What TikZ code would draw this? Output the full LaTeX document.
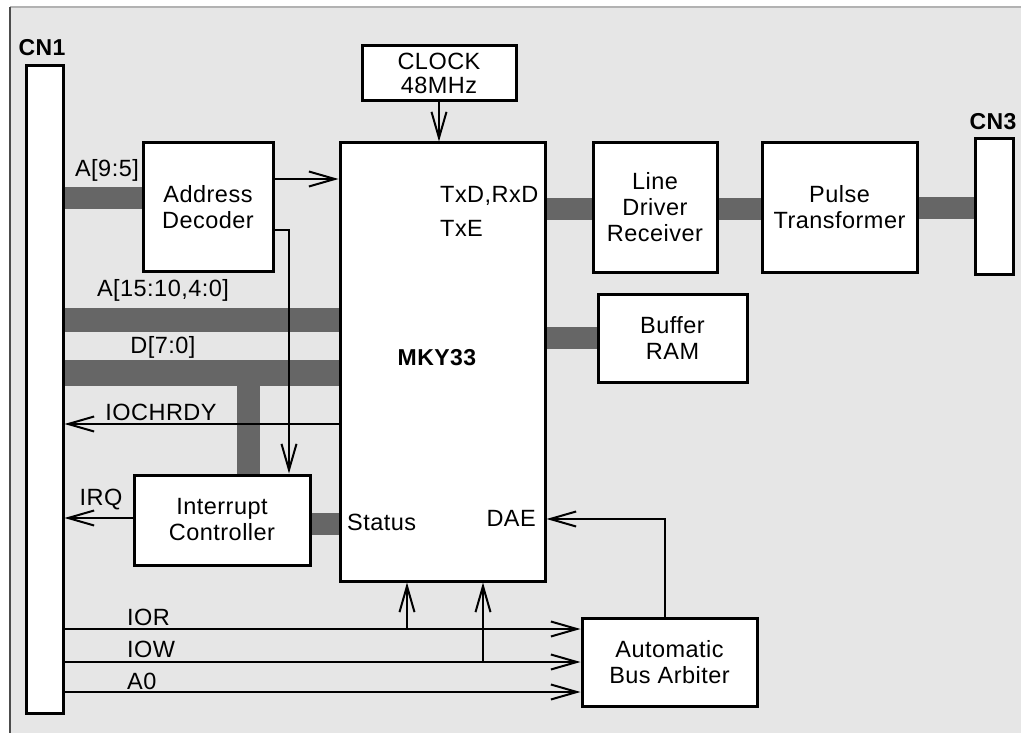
\documentclass[tikz,border=0pt]{standalone}
\usepackage{fontspec}
\setmainfont{Liberation Sans}
\usetikzlibrary{arrows.meta}
\definecolor{bg}{HTML}{E6E6E6}
\definecolor{busc}{HTML}{666666}
\begin{document}
\begin{tikzpicture}[x=1pt,y=-1pt,
  box/.style={draw, line width=3pt, fill=white, inner sep=0pt, align=center,
    font=\fontsize{23.5}{26}\selectfont\addfontfeature{LetterSpace=2}},
  lab/.style={inner sep=0pt, font=\fontsize{23.5}{26}\selectfont\addfontfeature{LetterSpace=2}},
  blab/.style={inner sep=0pt, font=\fontsize{23}{26}\selectfont\bfseries\addfontfeature{LetterSpace=2}},
  bus/.style={line width=22pt, busc},
  sig/.style={line width=2pt, -{Straight Barb[length=26pt,width=15pt]}},
  plain/.style={line width=2pt}]
\useasboundingbox (0,0) rectangle (1021,733);
\fill[bg] (10,7) rectangle (1021,733);
\draw[line width=1.5pt, gray!60] (10,7) -- (1021,7);
\draw[line width=2pt, gray!140] (10,7) -- (10,733);

% boxes
\node[box, minimum width=37pt, minimum height=647pt] (CN1) at (44.5,389.5) {};
\node[blab] (CN1l) at (42,48) {CN1};
\node[box, minimum width=130pt, minimum height=128pt] (AD) at (208,207) {Address\\Decoder};
\node[box, minimum width=205pt, minimum height=438pt] (MKY) at (442.5,362) {};
\node[box, minimum width=154pt, minimum height=55pt, font=\fontsize{23.5}{24}\selectfont\addfontfeature{LetterSpace=2}] (CLK) at (439,73.5) {CLOCK\\48MHz};
\node[box, minimum width=124pt, minimum height=129pt] (LD) at (655,207.5) {Line\\Driver\\Receiver};
\node[box, minimum width=155pt, minimum height=129pt] (PT) at (839.5,207.5) {Pulse\\Transformer};
\node[box, minimum width=38pt, minimum height=135pt] (CN3) at (994,206.5) {};
\node[blab] (CN3l) at (993,122) {CN3};
\node[box, minimum width=149pt, minimum height=88pt] (BR) at (672.5,338) {Buffer\\RAM};
\node[box, minimum width=176pt, minimum height=90pt] (IC) at (222,520) {Interrupt\\Controller};
\node[box, minimum width=175pt, minimum height=88pt] (ABA) at (669.5,662) {Automatic\\Bus Arbiter};

% labels inside MKY33
\node[lab, anchor=west] (txd) at (440,196) {TxD,RxD};
\node[lab, anchor=west] (txe) at (440,228) {TxE};
\node[blab] (mkyl) at (437,358) {MKY33};
\node[lab, anchor=west] (status) at (347,522) {Status};
\node[lab, anchor=east] (dae) at (536,518) {DAE};

% buses
\draw[bus] (CN1.east |- 0,198) -- (AD.west |- 0,198);
\node[lab] (a95) at (107,170) {A[9:5]};
\draw[bus, line width=24pt] (CN1.east |- 0,320) -- (MKY.west |- 0,320);
\node[lab] (a15) at (163,290) {A[15:10,4:0]};
\draw[bus, line width=26pt] (CN1.east |- 0,373) -- (MKY.west |- 0,373);
\node[lab] (d70) at (163,347) {D[7:0]};
\draw[bus, line width=23pt] (248,373) -- (248,0 |- IC.north);
\draw[bus] (IC.east |- 0,524) -- (MKY.west |- 0,524);
\draw[bus] (MKY.east |- 0,209) -- (LD.west |- 0,209);
\draw[bus] (LD.east |- 0,209) -- (PT.west |- 0,209);
\draw[bus] (PT.east |- 0,208) -- (CN3.west |- 0,208);
\draw[bus] (MKY.east |- 0,338) -- (BR.west |- 0,338);

% signals
\draw[sig] (AD.east |- 0,179) -- (MKY.west |- 0,179);
\draw[sig] (AD.east |- 0,230) -| (IC.north -| 289,0);
\draw[sig] (CLK.south) -- (CLK.south |- MKY.north);
\draw[sig] (MKY.west |- 0,424) -- (CN1.east |- 0,424);
\node[lab] (iochrdy) at (161,412) {IOCHRDY};
\draw[sig] (IC.west |- 0,518) -- (CN1.east |- 0,518);
\node[lab] (irq) at (101,500) {IRQ};

\coordinate (jR) at (407,629);
\coordinate (jW) at (483,662);
\draw[sig] (CN1.east |- 0,629) -- (ABA.west |- 0,629);
\draw[sig] (jR) -- (jR |- MKY.south);
\node[lab, anchor=west] (ior) at (127,617) {IOR};
\draw[sig] (CN1.east |- 0,662) -- (ABA.west |- 0,662);
\draw[sig] (jW) -- (jW |- MKY.south);
\node[lab, anchor=west] (iow) at (127,649) {IOW};
\draw[sig] (CN1.east |- 0,692) -- (ABA.west |- 0,692);
\node[lab, anchor=west] (a0) at (127,681) {A0};
\draw[sig] (ABA.north -| 665,0) |- (MKY.east |- 0,519);
\end{tikzpicture}
\end{document}
